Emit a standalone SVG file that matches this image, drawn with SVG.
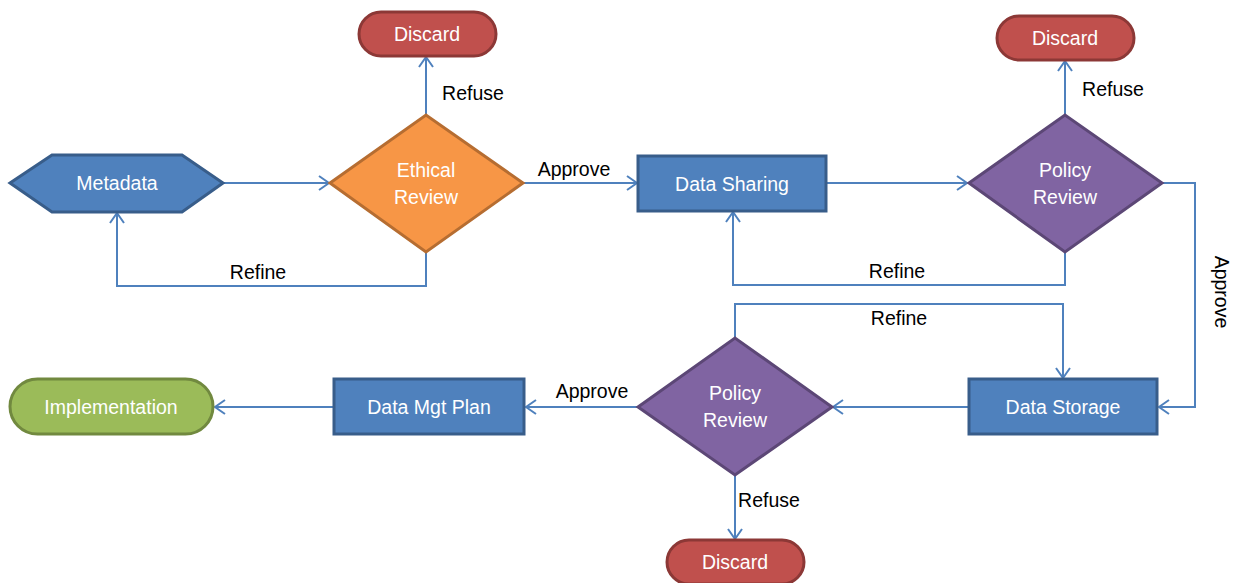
<svg xmlns="http://www.w3.org/2000/svg" width="1236" height="583" viewBox="0 0 1236 583">
<style>
.t{font-family:"Liberation Sans",Arial,sans-serif;font-size:19.5px;text-anchor:middle;dominant-baseline:central}
.w{fill:#ffffff}
.k{fill:#000000}
.blue{fill:#4F81BD;stroke:#385D8A;stroke-width:3}
.red{fill:#C0504D;stroke:#8C3836;stroke-width:3}
.org{fill:#F79646;stroke:#B66D31;stroke-width:3}
.pur{fill:#8064A2;stroke:#5C4776;stroke-width:3}
.grn{fill:#9BBB59;stroke:#71893F;stroke-width:3}
.c{fill:none;stroke:#4F81BD;stroke-width:2;marker-end:url(#a)}
</style>
<defs>
<marker id="a" markerWidth="14" markerHeight="16" refX="11" refY="8" orient="auto" markerUnits="userSpaceOnUse">
<path d="M1,1 L11,8 L1,15" fill="none" stroke="#4F81BD" stroke-width="2"/>
</marker>
</defs>
<g id="connectors">
<path class="c" d="M224,183 L329,183"/>
<path class="c" d="M426,115 L426,57"/>
<path class="c" d="M523,183 L637,183"/>
<path class="c" d="M426,252 L426,286 L117,286 L117,213"/>
<path class="c" d="M826,183 L967,183"/>
<path class="c" d="M1065,115 L1065,61"/>
<path class="c" d="M1065,252 L1065,285 L733,285 L733,212"/>
<path class="c" d="M1162,183 L1195,183 L1195,407 L1159,407"/>
<path class="c" d="M969,407 L833,407"/>
<path class="c" d="M735,338 L735,304 L1063,304 L1063,378"/>
<path class="c" d="M735,475 L735,539"/>
<path class="c" d="M638,407 L526,407"/>
<path class="c" d="M334,407 L215,407"/>
<text class="t k" x="473" y="93">Refuse</text>
<text class="t k" x="574" y="169">Approve</text>
<text class="t k" x="258" y="272">Refine</text>
<text class="t k" x="1113" y="89">Refuse</text>
<text class="t k" x="897" y="271">Refine</text>
<text class="t k" x="1222" y="292" transform="rotate(90 1222 292)">Approve</text>
<text class="t k" x="899" y="318">Refine</text>
<text class="t k" x="769" y="500">Refuse</text>
<text class="t k" x="592" y="391">Approve</text>
</g>
<g id="metadata">
<polygon class="blue" points="10,183 52,155 182,155 223,183 182,212 52,212"/>
<text class="t w" x="117" y="183">Metadata</text>
</g>
<g id="ethical-review">
<polygon class="org" points="330,183 426,115 523,183 426,252"/>
<text class="t w" x="426" y="170">Ethical</text>
<text class="t w" x="426" y="197">Review</text>
</g>
<g id="discard1">
<rect class="red" x="359" y="12" width="137" height="44" rx="22"/>
<text class="t w" x="427" y="34">Discard</text>
</g>
<g id="data-sharing">
<rect class="blue" x="638" y="156" width="188" height="55"/>
<text class="t w" x="732" y="184">Data Sharing</text>
</g>
<g id="policy-review1">
<polygon class="pur" points="969,183 1065,115 1162,183 1065,252"/>
<text class="t w" x="1065" y="170">Policy</text>
<text class="t w" x="1065" y="197">Review</text>
</g>
<g id="discard2">
<rect class="red" x="997" y="16" width="137" height="44" rx="22"/>
<text class="t w" x="1065" y="38">Discard</text>
</g>
<g id="data-storage">
<rect class="blue" x="969" y="379" width="188" height="55"/>
<text class="t w" x="1063" y="407">Data Storage</text>
</g>
<g id="policy-review2">
<polygon class="pur" points="638,407 735,338 832,407 735,475"/>
<text class="t w" x="735" y="393">Policy</text>
<text class="t w" x="735" y="420">Review</text>
</g>
<g id="discard3">
<rect class="red" x="667" y="540" width="137" height="44" rx="22"/>
<text class="t w" x="735" y="562">Discard</text>
</g>
<g id="data-mgt-plan">
<rect class="blue" x="334" y="379" width="190" height="55"/>
<text class="t w" x="429" y="407">Data Mgt Plan</text>
</g>
<g id="implementation">
<rect class="grn" x="10" y="379" width="203" height="55" rx="27.5"/>
<text class="t w" x="111" y="407">Implementation</text>
</g>
</svg>
